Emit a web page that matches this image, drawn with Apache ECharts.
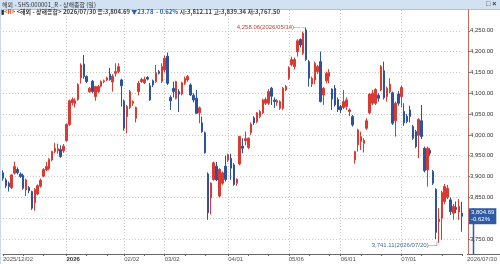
<!DOCTYPE html>
<html>
<head>
<meta charset="utf-8">
<script src="https://cdn.jsdelivr.net/npm/echarts@6/dist/echarts.min.js"></script>
<style>
  html, body { margin: 0; padding: 0; background: #fff; }
  #chart { width: 500px; height: 264px; }
</style>
</head>
<body>
<div id="chart"></div>
<script>
// trading days per month
const tradingDays = [
  ['2025/12', [2, 3, 4, 5, 8, 9, 10, 11, 12, 15, 16, 17, 18, 19, 22, 23, 24, 25, 26, 29, 30, 31]],
  ['2026/01', [5, 6, 7, 8, 9, 12, 13, 14, 15, 16, 19, 20, 21, 22, 23, 26, 27, 28, 29, 30]],
  ['2026/02', [2, 3, 4, 5, 6, 9, 10, 11, 12, 13, 24, 25, 26, 27]],
  ['2026/03', [2, 3, 4, 5, 6, 9, 10, 11, 12, 13, 16, 17, 18, 19, 20, 23, 24, 25, 26, 27, 30, 31]],
  ['2026/04', [1, 2, 3, 7, 8, 9, 10, 13, 14, 15, 16, 17, 20, 21, 22, 23, 24, 27, 28, 29, 30]],
  ['2026/05', [6, 7, 8, 11, 12, 13, 14, 15, 18, 19, 20, 21, 22, 25, 26, 27, 28, 29]],
  ['2026/06', [1, 2, 3, 4, 5, 8, 9, 10, 11, 12, 15, 16, 17, 18, 22, 23, 24, 25, 26, 29, 30]],
  ['2026/07', [1, 2, 3, 6, 7, 8, 9, 10, 13, 14, 15, 16, 17, 20, 21, 22, 23, 24, 27, 28, 29, 30]]
];

// daily OHLC, one row per month
const opens = [
  3909, 3892, 3884, 3873, 3908, 3917, 3906, 3903, 3868, 3874, 3864, 3837, 3858, 3877, 3901, 3916, 3919, 3940, 3960, 3962, 3965, 3962,
  3986, 4025, 4077, 4075, 4085, 4137, 4170, 4140, 4104, 4129, 4092, 4104, 4117, 4128, 4132, 4146, 4127, 4148, 4152, 4132,
  4081, 4044, 4066, 4076, 4040, 4104, 4128, 4125, 4138, 4118, 4130, 4128, 4152, 4129,
  4156, 4189, 4090, 4112, 4088, 4104, 4098, 4124, 4132, 4120, 4095, 4088, 4053, 4029, 4005, 3906, 3849, 3893, 3925, 3853, 3884, 3925,
  3940, 3944, 3928, 3884, 3930, 3973, 3986, 3970, 4006, 4041, 4032, 4044, 4053, 4076, 4076, 4112, 4084, 4078, 4064, 4064, 4108,
  4136, 4169, 4164, 4200, 4229, 4196, 4252, 4176, 4122, 4132, 4152, 4176, 4096, 4130, 4140, 4110, 4112, 4085,
  4068, 4066, 4068, 4056, 4044, 3940, 3976, 3984, 3980, 4016, 4053, 4076, 4076, 4095, 4108, 4154, 4092, 4104, 4101, 4034, 4098,
  4092, 4056, 4045, 4060, 4020, 4008, 3999, 4034, 3968, 3916, 3963, 3912, 3869, 3792, 3800, 3840, 3850, 3844, 3812, 3826, 3815, 3812.11
];
const closes = [
  3896, 3878, 3876, 3904, 3924, 3909, 3900, 3872, 3892, 3866, 3824, 3869, 3878, 3891, 3917, 3924, 3941, 3960, 3968, 3967, 3948, 3973,
  4025, 4082, 4085, 4082, 4121, 4168, 4140, 4128, 4112, 4104, 4116, 4116, 4128, 4130, 4137, 4133, 4141, 4152, 4164, 4118,
  4016, 4068, 4104, 4080, 4066, 4124, 4133, 4133, 4134, 4084, 4120, 4149, 4148, 4164,
  4184, 4124, 4082, 4104, 4128, 4098, 4125, 4135, 4140, 4096, 4084, 4052, 4065, 4008, 3957, 3813, 3884, 3933, 3892, 3917, 3909, 3893,
  3952, 3920, 3881, 3893, 3996, 3968, 3991, 3992, 4026, 4029, 4053, 4056, 4084, 4085, 4104, 4093, 4080, 4082, 4080, 4112, 4116,
  4161, 4181, 4181, 4226, 4216, 4244, 4181, 4136, 4136, 4172, 4164, 4080, 4112, 4148, 4150, 4086, 4072, 4061,
  4060, 4080, 4084, 4060, 4024, 3960, 4012, 3996, 3987, 4034, 4098, 4100, 4109, 4088, 4164, 4089, 4112, 4122, 4028, 4076, 4076,
  4114, 4029, 4032, 4044, 3992, 3972, 4037, 3996, 3914, 3968, 3956, 3884, 3766, 3798, 3862, 3876, 3872, 3816, 3828, 3821, 3828.47, 3804.69
];
const lows = [
  3890, 3872, 3864, 3870, 3905, 3905, 3897, 3868, 3853, 3860, 3820, 3818, 3855, 3873, 3898, 3913, 3915, 3937, 3956, 3955, 3945, 3957,
  3984, 4022, 4071, 4066, 4082, 4123, 4135, 4125, 4101, 4100, 4082, 4100, 4114, 4124, 4129, 4130, 4104, 4140, 4148, 4068,
  4010, 4004, 4062, 4070, 4030, 4095, 4125, 4122, 4131, 4082, 4115, 4125, 4145, 4125,
  4150, 4120, 4060, 4090, 4085, 4055, 4095, 4120, 4128, 4094, 4078, 4050, 4028, 4005, 3955, 3796, 3809, 3890, 3889, 3850, 3880, 3888,
  3935, 3892, 3878, 3878, 3927, 3956, 3975, 3966, 4000, 4024, 4028, 4040, 4050, 4072, 4072, 4072, 4065, 4070, 4060, 4060, 4105,
  4132, 4165, 4157, 4188, 4210, 4192, 4178, 4116, 4115, 4122, 4146, 4078, 4072, 4124, 4124, 4060, 4068, 4055,
  4052, 4062, 4060, 4045, 4020, 3931, 3960, 3964, 3958, 4012, 4050, 4072, 4072, 4080, 4105, 4085, 4080, 4100, 4024, 3996, 4070,
  4066, 4022, 4028, 4030, 3988, 3968, 3944, 3990, 3910, 3876, 3950, 3880, 3750, 3741.11, 3748, 3834, 3846, 3808, 3796, 3812, 3796, 3767.50
];
const highs = [
  3915, 3897, 3888, 3906, 3936, 3922, 3910, 3907, 3895, 3877, 3866, 3872, 3881, 3895, 3920, 3935, 3944, 3962, 3981, 3979, 3975, 3978,
  4028, 4085, 4090, 4088, 4124, 4172, 4192, 4143, 4115, 4132, 4118, 4120, 4131, 4133, 4140, 4161, 4146, 4172, 4172, 4135,
  4085, 4072, 4108, 4083, 4068, 4130, 4137, 4140, 4141, 4125, 4133, 4168, 4156, 4172,
  4190, 4198, 4095, 4128, 4130, 4110, 4128, 4140, 4144, 4124, 4100, 4108, 4068, 4044, 4008, 3910, 3886, 3936, 3935, 3920, 3912, 3950,
  3955, 3955, 3932, 3896, 3998, 3992, 4008, 3994, 4030, 4045, 4055, 4060, 4087, 4090, 4110, 4115, 4090, 4086, 4083, 4115, 4120,
  4165, 4188, 4186, 4230, 4232, 4248, 4258.06, 4180, 4140, 4176, 4168, 4200, 4115, 4152, 4158, 4112, 4120, 4090,
  4072, 4108, 4090, 4064, 4048, 3962, 4015, 4008, 3992, 4040, 4100, 4108, 4112, 4100, 4168, 4176, 4116, 4136, 4104, 4080, 4105,
  4118, 4076, 4050, 4070, 4024, 4012, 4040, 4072, 3972, 3972, 3968, 3916, 3872, 3824, 3866, 3882, 3880, 3850, 3834, 3840, 3846, 3839.34
];

const yTicks = [3750, 3800, 3850, 3900, 3950, 4000, 4050, 4100, 4150, 4200, 4250];
const yMin = 3714;
const yMax = 4300;

const dates = [];
const monthStarts = [];
tradingDays.forEach(([ym, days]) => {
  monthStarts.push(dates.length);
  days.forEach(d => dates.push(ym + '/' + String(d).padStart(2, '0')));
});
const last = dates.length - 1;
const candles = dates.map((d, i) => [opens[i], closes[i], lows[i], highs[i]]);

const labelIdx = new Set([0, last].concat(monthStarts.slice(1)));
const tickIdx = new Set(labelIdx);
monthStarts.forEach(s => { tickIdx.add(s + 7); tickIdx.add(s + 14); });
const gridIdx = new Set(monthStarts.slice(1));

const fmt = v => v.toLocaleString('en-US', {minimumFractionDigits: 2, maximumFractionDigits: 2});

let iMax = 0, iMin = 0;
highs.forEach((v, i) => { if (v > highs[iMax]) iMax = i; });
lows.forEach((v, i) => { if (v < lows[iMin]) iMin = i; });

const prevClose = closes[last - 1];
const chg = closes[last] - prevClose;
const pct = chg / prevClose * 100;

const FONT = 'Liberation Sans, Noto Sans CJK KR, sans-serif';
const KFONT = 'Noto Sans CJK KR, sans-serif';
const gridRight = 33;
const axisOffset = 6;

const chart = echarts.init(document.getElementById('chart'));

const baseGraphic = [
  {type: 'rect', shape: {x: 0, y: 0, width: 500, height: 9}, style: {fill: '#d3e2f2'}, silent: true},
  {type: 'line', shape: {x1: 0, y1: 9.5, x2: 500, y2: 9.5}, style: {stroke: '#aac3df', lineWidth: 1}},
  {type: 'rect', shape: {x: 0, y: 9, width: 1, height: 255}, style: {fill: '#c9dbef'}},
  {type: 'text', x: 2, y: 1.5, style: {text: '해외 - SHS:000001_R - 상해종합 (일)', font: '6px ' + KFONT, fill: '#333'}},
  {type: 'text', x: 486, y: 0.5, style: {text: '□ ×', font: 'bold 7px ' + FONT, fill: '#333'}},
  {type: 'line', shape: {x1: 500 - gridRight, y1: 254.5, x2: 500, y2: 254.5}, style: {stroke: '#666', lineWidth: 1}}
];

chart.setOption({
  animation: false,
  backgroundColor: '#fff',
  textStyle: {fontFamily: FONT},
  title: {
    left: 1,
    top: 9,
    padding: 0,
    text: `{b|▮}{r|<R>}{n| <해외 - 상해종합> ${dates[last]} 종:${fmt(closes[last])} }{d|▼${fmt(Math.abs(chg))}  - ${Math.abs(pct).toFixed(2)}% }{n|시:${fmt(opens[last])} 고:${fmt(highs[last])} 저:${fmt(lows[last])}}`,
    textStyle: {
      rich: {
        b: {fontSize: 6, color: '#333', fontFamily: KFONT},
        r: {fontSize: 6, color: '#e0502a', fontFamily: KFONT},
        n: {fontSize: 6, color: '#444', fontFamily: KFONT},
        d: {fontSize: 6, color: '#3060b0', fontFamily: KFONT}
      }
    }
  },
  grid: {left: 0, right: gridRight, top: 10, bottom: 10},
  xAxis: {
    type: 'category',
    data: dates,
    boundaryGap: false,
    axisLine: {lineStyle: {color: '#666'}},
    axisTick: {
      show: true,
      length: 2,
      interval: i => tickIdx.has(i),
      lineStyle: {color: '#666'}
    },
    axisLabel: {
      interval: i => labelIdx.has(i),
      showMinLabel: true,
      showMaxLabel: true,
      hideOverlap: false,
      align: 'left',
      margin: 2,
      fontSize: 6,
      color: '#555',
      formatter: (v, i) => {
        if (i === 0) return v;
        if (i === last) return '   ' + v;
        if (v.slice(5, 7) === '01') return '{yr|' + v.slice(0, 4) + '}';
        return v.slice(5);
      },
      rich: {
        yr: {fontSize: 6, fontWeight: 'bold', color: '#333'}
      }
    },
    splitLine: {
      show: true,
      interval: i => gridIdx.has(i),
      lineStyle: {color: '#c8c8c8', type: [1, 2]}
    }
  },
  yAxis: {
    type: 'value',
    position: 'right',
    offset: axisOffset,
    min: yMin,
    max: yMax,
    axisLine: {show: true, lineStyle: {color: '#c46a60'}},
    axisTick: {show: true, length: 2, customValues: yTicks, lineStyle: {color: '#777'}},
    axisLabel: {customValues: yTicks, formatter: v => fmt(v), fontSize: 6, margin: 2, color: '#333'},
    splitLine: {show: true, lineStyle: {color: '#c8c8c8', type: [1, 2]}}
  },
  series: [{
    type: 'candlestick',
    data: candles,
    barWidth: 2,
    itemStyle: {
      color: '#dc3a30',
      color0: '#2c52a0',
      borderColor: '#dc3a30',
      borderColor0: '#2c52a0',
      borderWidth: 1
    },
    markPoint: {
      symbol: 'circle',
      symbolSize: 0,
      data: [
        {
          coord: [dates[iMax], highs[iMax]],
          value: highs[iMax],
          label: {
            show: true, position: 'left', distance: 0,
            formatter: fmt(highs[iMax]) + '(' + dates[iMax] + ')—→',
            fontSize: 6, color: '#b8473c', fontFamily: FONT
          }
        },
        {
          coord: [dates[iMin], lows[iMin]],
          value: lows[iMin],
          label: {
            show: true, position: 'left', distance: 0, offset: [0, 3],
            formatter: fmt(lows[iMin]) + '(' + dates[iMin] + ')—┘',
            fontSize: 6, color: '#4d6a9c', fontFamily: FONT
          }
        }
      ]
    },
    markLine: {
      symbol: 'none',
      silent: true,
      z: 10,
      lineStyle: {color: 'rgba(0,0,0,0)', width: 0},
      data: [{yAxis: closes[last]}],
      label: {
        show: true,
        position: 'end',
        distance: axisOffset + 1,
        formatter: fmt(closes[last]) + '\n' + (chg < 0 ? '-' : '+') + Math.abs(pct).toFixed(2) + '%',
        backgroundColor: '#2f5aa5',
        color: '#fff',
        fontSize: 6,
        lineHeight: 7,
        padding: [0, 2, 2, 2],
        align: 'left'
      }
    }
  }],
  graphic: baseGraphic
});

// lower part of the price axis line (below the last close) is blue
const yClose = chart.convertToPixel({yAxisIndex: 0}, closes[last]);
const yBottom = chart.convertToPixel({yAxisIndex: 0}, yMin);
const axisX = 500 - gridRight + axisOffset + 0.5;
chart.setOption({
  graphic: baseGraphic.concat([
    {type: 'line', shape: {x1: axisX, y1: yClose - 8, x2: axisX, y2: yBottom}, style: {stroke: '#2f5aa5', lineWidth: 1.5}}
  ])
});
</script>
</body>
</html>
